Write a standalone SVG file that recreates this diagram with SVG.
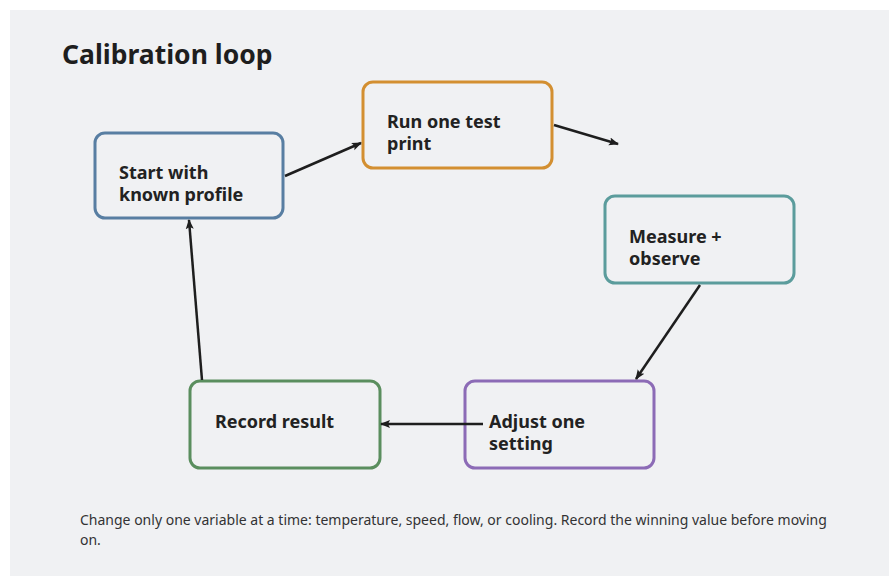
<svg xmlns="http://www.w3.org/2000/svg" width="889" height="576" viewBox="0 0 889 576">
<style>
.node{fill:#f0f1f3;stroke-width:3}
.lbl{font-family:"Noto Sans",sans-serif;font-weight:bold;font-size:18px;fill:#222}
.edge{stroke:#1e1e1e;stroke-width:2.5;fill:none;marker-end:url(#ah)}
</style>
<defs>
<marker id="ah" viewBox="0 0 10 10" refX="9" refY="5" markerWidth="10" markerHeight="10" markerUnits="userSpaceOnUse" orient="auto">
<path d="M0,1 L10,5 L0,9 L2,5 z" fill="#1e1e1e"/>
</marker>
</defs>
<rect x="0" y="0" width="889" height="576" fill="#ffffff"/>
<rect x="10" y="10" width="879" height="566" fill="#f0f1f3"/>
<text x="62" y="64" font-family="Noto Sans, sans-serif" font-weight="bold" font-size="26.5" fill="#1e1e1e">Calibration loop</text>
<g id="start">
<rect class="node" x="95" y="133" width="188" height="85" rx="10" stroke="#587ea2"/>
<text class="lbl" x="119" y="179">Start with<tspan x="119" dy="21.5">known profile</tspan></text>
</g>
<g id="run">
<rect class="node" x="363" y="82" width="189" height="86" rx="10" stroke="#d38f31"/>
<text class="lbl" x="387" y="128">Run one test<tspan x="387" dy="21.5">print</tspan></text>
</g>
<g id="measure">
<rect class="node" x="605" y="196" width="189" height="87" rx="10" stroke="#5b9c9c"/>
<text class="lbl" x="629" y="243">Measure +<tspan x="629" dy="21.5">observe</tspan></text>
</g>
<g id="adjust">
<rect class="node" x="465" y="381" width="189" height="87" rx="10" stroke="#8c6bb6"/>
<text class="lbl" x="489" y="428">Adjust one<tspan x="489" dy="21.5">setting</tspan></text>
</g>
<g id="record">
<rect class="node" x="190" y="381" width="190" height="87" rx="10" stroke="#5a8e5e"/>
<text class="lbl" x="215" y="428">Record result</text>
</g>
<g id="connectors">
<line class="edge" x1="285" y1="176" x2="361" y2="143"/>
<line class="edge" x1="554" y1="125" x2="618" y2="144"/>
<line class="edge" x1="700" y1="285" x2="636" y2="379"/>
<line class="edge" x1="483" y1="424" x2="381" y2="424"/>
<line class="edge" x1="202" y1="380" x2="189" y2="220"/>
</g>
<text font-family="Noto Sans, sans-serif" font-size="14" fill="#333" x="80" y="525">Change only one variable at a time: temperature, speed, flow, or cooling. Record the winning value before moving<tspan x="80" dy="20">on.</tspan></text>
</svg>
